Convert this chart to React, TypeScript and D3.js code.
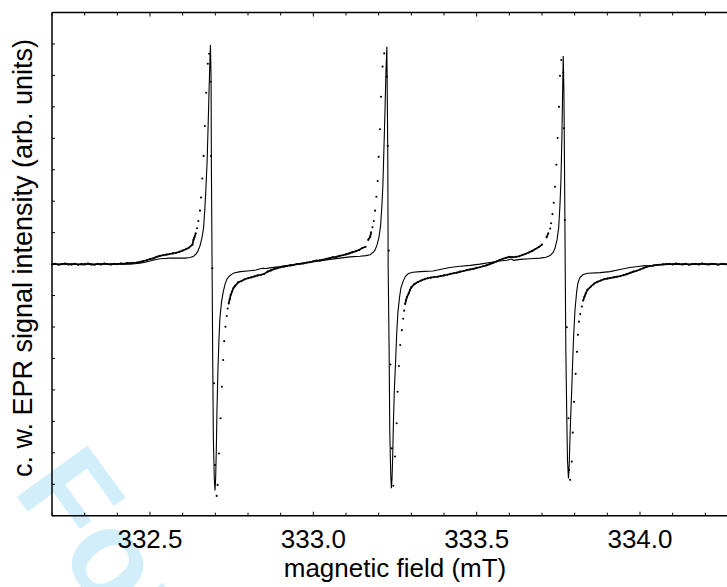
import React from "react";
import * as d3 from "d3";

// ---- axes ----
const fieldDomain: [number, number] = [332.2, 334.3];
const signalDomain: [number, number] = [-8, 8];
const xMajorTicks = [332.5, 333.0, 333.5, 334.0];
const xTickLabels = ["332.5", "333.0", "333.5", "334.0"];
const xTitle = "magnetic field (mT)";
const yTitle = "c. w. EPR signal intensity (arb. units)";
const watermark = "For Peer Review";

// ---- simulated spectrum (solid line) ----
const simField = [
  332.2, 332.439, 332.454, 332.469, 332.485, 332.5, 332.515, 332.531, 332.546, 332.561,
  332.577, 332.592, 332.607, 332.622, 332.632, 332.641, 332.647, 332.653, 332.659, 332.664,
  332.668, 332.671, 332.675, 332.678, 332.681, 332.684, 332.685, 332.687, 332.688, 332.69,
  332.692, 332.694, 332.697, 332.699, 332.701, 332.703, 332.705, 332.708, 332.711, 332.714,
  332.719, 332.724, 332.73, 332.736, 332.745, 332.757, 332.776, 332.806, 332.825, 332.837,
  332.846, 332.855, 332.867, 332.898, 332.929, 332.959, 332.99, 333.02, 333.051, 333.082,
  333.112, 333.143, 333.161, 333.174, 333.183, 333.189, 333.195, 333.201, 333.206, 333.21,
  333.213, 333.216, 333.219, 333.222, 333.225, 333.226, 333.228, 333.229, 333.232, 333.234,
  333.237, 333.239, 333.241, 333.243, 333.245, 333.248, 333.252, 333.255, 333.259, 333.264,
  333.268, 333.275, 333.282, 333.291, 333.305, 333.327, 333.366, 333.388, 333.418, 333.449,
  333.48, 333.51, 333.541, 333.571, 333.593, 333.605, 333.614, 333.633, 333.663, 333.694,
  333.712, 333.725, 333.734, 333.74, 333.746, 333.751, 333.755, 333.758, 333.761, 333.763,
  333.765, 333.767, 333.769, 333.771, 333.773, 333.776, 333.778, 333.781, 333.783, 333.785,
  333.788, 333.791, 333.794, 333.797, 333.801, 333.806, 333.81, 333.816, 333.826, 333.841,
  333.878, 333.908, 333.939, 333.969, 334.0, 334.015, 334.031, 334.046, 334.061, 334.092,
  334.153, 334.3,
];
const simSignal = [
  0, 0, 0.01, 0.03, 0.06, 0.1, 0.14, 0.17, 0.18, 0.19,
  0.19, 0.19, 0.19, 0.21, 0.24, 0.32, 0.42, 0.58, 0.83, 1.15,
  1.78, 2.36, 3.31, 4.42, 5.6, 6.65, 6.97, 5.85, 2.99, 0,
  -3.05, -5.59, -6.86, -7.2, -6.8, -5.91, -4.64, -3.37, -2.41, -1.71,
  -1.21, -0.89, -0.63, -0.47, -0.36, -0.28, -0.24, -0.21, -0.19, -0.15,
  -0.13, -0.14, -0.12, -0.08, -0.03, 0.02, 0.06, 0.1, 0.15, 0.19,
  0.23, 0.25, 0.27, 0.3, 0.37, 0.45, 0.61, 0.86, 1.24, 1.88,
  2.52, 3.63, 4.74, 6.01, 6.91, 5.85, 3.31, 0, -2.73, -5.28,
  -6.71, -7.13, -6.8, -6.07, -5.12, -4.0, -3.05, -2.25, -1.52, -1.05,
  -0.76, -0.54, -0.39, -0.3, -0.26, -0.24, -0.22, -0.17, -0.11, -0.07,
  -0.04, 0, 0.05, 0.1, 0.12, 0.16, 0.12, 0.15, 0.17, 0.19,
  0.22, 0.27, 0.37, 0.51, 0.77, 1.15, 1.88, 2.67, 4.1, 5.38,
  6.62, 5.53, 2.99, 0, -2.73, -4.96, -6.23, -6.82, -6.48, -5.75,
  -4.8, -4.0, -3.05, -2.25, -1.46, -0.89, -0.6, -0.43, -0.33, -0.29,
  -0.27, -0.24, -0.17, -0.11, -0.07, -0.05, -0.06, -0.03, -0.02, -0.01,
  0, 0,
];

// ---- experimental spectrum (dots) ----
const expField = [
  332.2, 332.21, 332.22, 332.23, 332.24, 332.25, 332.26, 332.27, 332.28, 332.29,
  332.3, 332.31, 332.32, 332.33, 332.34, 332.35, 332.36, 332.37, 332.38, 332.39,
  332.4, 332.41, 332.42, 332.43, 332.44, 332.45, 332.46, 332.47, 332.48, 332.49,
  332.5, 332.51, 332.52, 332.53, 332.54, 332.55, 332.56, 332.57, 332.58, 332.59,
  332.6, 332.61, 332.62, 332.63,
  332.633, 332.636, 332.64, 332.644, 332.648, 332.653, 332.656, 332.66, 332.664, 332.668,
  332.672, 332.677, 332.681, 332.685, 332.687, 332.691, 332.696, 332.699, 332.704, 332.707,
  332.711, 332.716, 332.72, 332.724, 332.727, 332.731, 332.735, 332.738, 332.741, 332.744,
  332.747, 332.751, 332.755,
  332.76, 332.77, 332.78, 332.79, 332.8, 332.81, 332.82, 332.83, 332.84, 332.85,
  332.86, 332.87, 332.88, 332.89, 332.9, 332.91, 332.92, 332.93, 332.94, 332.95,
  332.96, 332.97, 332.98, 332.99, 333.0, 333.01, 333.02, 333.03, 333.04, 333.05,
  333.06, 333.07, 333.08, 333.09, 333.1, 333.11, 333.12, 333.13, 333.14, 333.15,
  333.16,
  333.168, 333.174, 333.177, 333.181, 333.185, 333.189, 333.193, 333.197, 333.2, 333.204,
  333.207, 333.212, 333.217, 333.225, 333.228, 333.231, 333.236, 333.24, 333.245, 333.25,
  333.255, 333.258, 333.262, 333.266, 333.271, 333.275, 333.278, 333.281, 333.284, 333.287,
  333.292, 333.296,
  333.3, 333.31, 333.32, 333.33, 333.34, 333.35, 333.36, 333.37, 333.38, 333.39,
  333.4, 333.41, 333.42, 333.43, 333.44, 333.45, 333.46, 333.47, 333.48, 333.49,
  333.5, 333.51, 333.52, 333.53, 333.54, 333.55, 333.56, 333.57, 333.58, 333.59,
  333.6, 333.61, 333.62, 333.63, 333.64, 333.65, 333.66, 333.67, 333.68, 333.69,
  333.7,
  333.714, 333.719, 333.725, 333.728, 333.732, 333.736, 333.74, 333.744, 333.748, 333.752,
  333.755, 333.759, 333.765, 333.767, 333.77, 333.776, 333.781, 333.783, 333.786, 333.791,
  333.794, 333.798, 333.803, 333.807, 333.81, 333.813, 333.817, 333.822, 333.826, 333.83,
  333.834, 333.839,
  333.85, 333.86, 333.87, 333.88, 333.89, 333.9, 333.91, 333.92, 333.93, 333.94,
  333.95, 333.96, 333.97, 333.98, 333.99, 334.0, 334.01, 334.02, 334.03, 334.04,
  334.05, 334.06, 334.07, 334.08, 334.09, 334.1, 334.11, 334.12, 334.13, 334.14,
  334.15, 334.16, 334.17, 334.18, 334.19, 334.2, 334.21, 334.22, 334.23, 334.24,
  334.25, 334.26, 334.27, 334.28, 334.29, 334.3,
];
const expSignal = [
  -0.01, 0.01, -0.02, 0.0, 0.02, -0.01, -0.01, 0.01, -0.02, 0.0,
  -0.01, 0.02, -0.01, -0.02, 0.01, -0.01, 0.02, 0.0, -0.01, 0.01,
  0.0, 0.02, 0.01, 0.03, 0.03, 0.04, 0.05, 0.07, 0.1, 0.12,
  0.16, 0.18, 0.23, 0.26, 0.28, 0.3, 0.32, 0.34, 0.36, 0.39,
  0.43, 0.47, 0.53, 0.62,
  0.77, 0.85, 0.98, 1.14, 1.37, 1.7, 2.12, 2.72, 3.44, 4.39,
  5.45, 6.37, 6.69, 5.8, 3.44, -0.13, -3.79, -6.39, -7.37, -7.02,
  -6.02, -4.9, -3.9, -3.05, -2.45, -1.99, -1.65, -1.41, -1.25, -1.12,
  -0.98, -0.88, -0.77,
  -0.7, -0.58, -0.54, -0.48, -0.45, -0.42, -0.39, -0.36, -0.34, -0.31,
  -0.24, -0.2, -0.16, -0.13, -0.1, -0.08, -0.06, -0.04, -0.03, 0.0,
  0.01, 0.02, 0.05, 0.06, 0.09, 0.11, 0.12, 0.14, 0.17, 0.19,
  0.22, 0.23, 0.26, 0.28, 0.31, 0.34, 0.38, 0.41, 0.45, 0.51,
  0.55,
  0.77, 0.87, 1.01, 1.17, 1.37, 1.7, 2.14, 2.64, 3.41, 4.29,
  5.32, 6.28, 6.7, 5.96, 3.76, 0.43, -3.19, -5.86, -7.05, -6.12,
  -5.06, -4.06, -3.24, -2.57, -2.1, -1.74, -1.48, -1.27, -1.14, -1.04,
  -0.93, -0.82,
  -0.74, -0.63, -0.57, -0.52, -0.48, -0.45, -0.43, -0.41, -0.4, -0.38,
  -0.36, -0.34, -0.31, -0.29, -0.27, -0.24, -0.22, -0.19, -0.17, -0.15,
  -0.12, -0.1, -0.07, -0.04, 0.0, 0.04, 0.08, 0.13, 0.17, 0.2,
  0.23, 0.22, 0.23, 0.25, 0.29, 0.33, 0.37, 0.42, 0.48, 0.54,
  0.62,
  0.85, 0.98, 1.13, 1.3, 1.59, 1.95, 2.46, 3.16, 4.01, 5.0,
  5.99, 6.49, 6.09, 4.32, 1.4, -2.01, -4.9, -6.55, -6.86, -6.28,
  -5.36, -4.38, -3.49, -2.79, -2.25, -1.83, -1.59, -1.35, -1.16, -1.04,
  -0.93, -0.82,
  -0.71, -0.62, -0.56, -0.52, -0.48, -0.46, -0.44, -0.42, -0.4, -0.38,
  -0.35, -0.32, -0.28, -0.24, -0.21, -0.17, -0.13, -0.09, -0.06, -0.05,
  -0.03, -0.02, -0.01, 0.0, 0.01, -0.01, 0.02, 0.0, -0.01, 0.01,
  -0.02, 0.0, 0.01, -0.01, 0.02, 0.0, -0.01, 0.01, 0.0, -0.02,
  0.01, 0.0, -0.01, 0.01, 0.0, 0.0,
];

const FONT = "'Liberation Sans', Arial, Helvetica, sans-serif";

export default function App() {
  const W = 727;
  const H = 587;
  const left = 52;
  const right = 738;
  const top = 12.5;
  const bottom = 515.7;

  const x = d3.scaleLinear().domain(fieldDomain).range([left, right]);
  const y = d3.scaleLinear().domain(signalDomain).range([bottom, top]);

  const simPath =
    d3
      .line<number>()
      .x((_, i) => x(simField[i]))
      .y((d) => y(d))(simSignal) || "";

  const pts = expField.map((f, i) => [x(f), y(expSignal[i])] as [number, number]);
  let densePath = "";
  for (let i = 1; i < pts.length; i++) {
    const [x0, y0] = pts[i - 1];
    const [x1, y1] = pts[i];
    if (Math.hypot(x1 - x0, y1 - y0) < 5) {
      densePath += `M${x0.toFixed(2)},${y0.toFixed(2)}L${x1.toFixed(2)},${y1.toFixed(2)}`;
    }
  }

  const xMinor = x.ticks(20);
  const yTicks = y.ticks(16);
  const isMajor = (v: number) => xMajorTicks.some((m) => Math.abs(m - v) < 1e-6);

  return (
    <svg
      width={W}
      height={H}
      style={{ position: "absolute", left: 0, top: 0, background: "#fff" }}
      fontFamily={FONT}
    >
      <rect x={0} y={0} width={W} height={H} fill="#fff" />
      {/* watermark */}
      <text
        transform="translate(12,490) rotate(54)"
        fontSize={127}
        fontWeight="bold"
        fill="#d2eefb"
        fontFamily={FONT}
      >
        {watermark}
      </text>

      {/* data */}
      <path d={simPath} fill="none" stroke="#000" strokeWidth={1.1} />
      <path d={densePath} fill="none" stroke="#000" strokeWidth={1.7} />
      {pts.map(([px, py], i) => (
        <circle key={i} cx={px} cy={py} r={1.05} fill="#000" />
      ))}

      {/* frame */}
      <g stroke="#000" strokeWidth={1.5} fill="none">
        <line x1={left} y1={top} x2={right} y2={top} />
        <line x1={left} y1={bottom} x2={right} y2={bottom} />
        <line x1={left} y1={top} x2={left} y2={bottom} />
        <line x1={right} y1={top} x2={right} y2={bottom} />
      </g>
      {/* ticks */}
      <g stroke="#000" strokeWidth={1}>
        {xMinor.map((v, i) => {
          const len = isMajor(v) ? 4 : 3;
          return (
            <g key={i}>
              <line x1={x(v)} x2={x(v)} y1={bottom} y2={bottom - len} />
              <line x1={x(v)} x2={x(v)} y1={top} y2={top + len} />
            </g>
          );
        })}
        {yTicks.map((v, i) => (
          <g key={i}>
            <line x1={left} x2={left + 3} y1={y(v)} y2={y(v)} />
            <line x1={right} x2={right - 3} y1={y(v)} y2={y(v)} />
          </g>
        ))}
      </g>
      {xMajorTicks.map((v, i) => (
        <text key={i} x={x(v)} y={548} textAnchor="middle" fontSize={26} fill="#000">
          {xTickLabels[i]}
        </text>
      ))}
      <text x={(left + right) / 2} y={577} textAnchor="middle" fontSize={26} fill="#000">
        {xTitle}
      </text>
      <text
        transform="translate(32,258) rotate(-90)"
        textAnchor="middle"
        fontSize={27}
        fill="#000"
      >
        {yTitle}
      </text>
    </svg>
  );
}
